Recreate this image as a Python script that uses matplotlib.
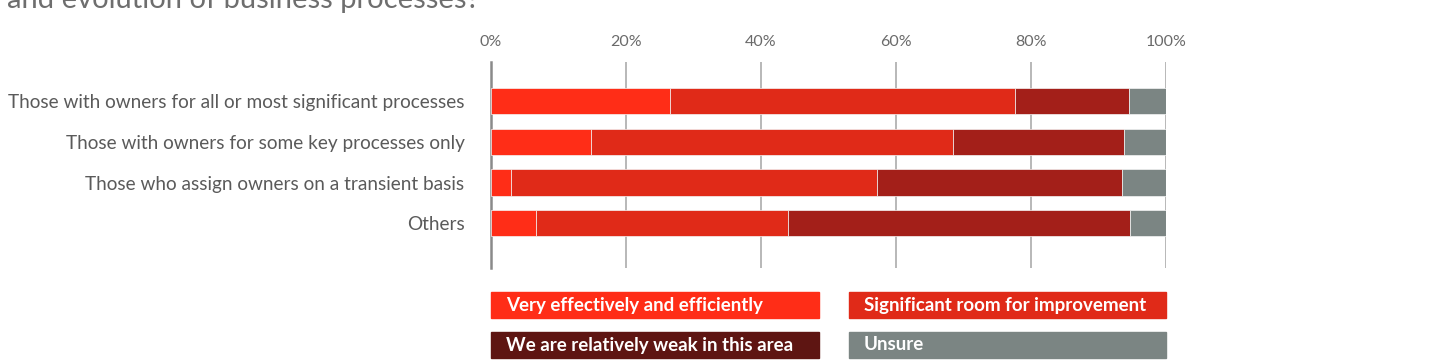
import matplotlib
matplotlib.use("Agg")
import matplotlib.pyplot as plt
from matplotlib.patches import Rectangle
import numpy as np

plt.rcParams["font.family"] = ["Lato", "DejaVu Sans"]

title = "and evolution of business processes?"
categories = [
    "Those with owners for all or most significant processes",
    "Those with owners for some key processes only",
    "Those who assign owners on a transient basis",
    "Others",
]
series = [
    "Very effectively and efficiently",
    "Significant room for improvement",
    "We are relatively weak in this area",
    "Unsure",
]
very_effective = [26.5, 14.8, 3.0, 6.6]
room_for_improvement = [51.2, 53.7, 54.2, 37.4]
relatively_weak = [16.8, 25.3, 36.3, 50.7]
unsure = [5.5, 6.2, 6.5, 5.3]
x_ticks = [0, 20, 40, 60, 80, 100]

bar_colors = ["#ff2d17", "#e02a18", "#a31f19", "#7b8583"]
legend_colors = ["#ff2d17", "#e02a18", "#5e1512", "#7b8583"]

W, H = 1431, 362
fig = plt.figure(figsize=(W / 100, H / 100), dpi=100)
ax = fig.add_axes([491 / W, 1 - 268 / H, 675 / W, 206 / H])

y = np.arange(len(categories))
left = np.zeros(len(categories))
for vals, c in zip([very_effective, room_for_improvement, relatively_weak, unsure], bar_colors):
    ax.barh(y, vals, left=left, height=0.64, color=c,
            edgecolor="#f4f4f4", linewidth=0.5, zorder=3)
    left += np.array(vals)

ax.set_xlim(0, 100)
ax.set_ylim(4.1, -0.96)
for t in x_ticks[1:]:
    ax.axvline(t, color="#ababab", lw=1.2, zorder=1)

ax.xaxis.tick_top()
ax.set_xticks(x_ticks)
ax.set_xticklabels([f"{t}%" for t in x_ticks], fontsize=11.5, color="#6a6a6a")
ax.set_yticks(y)
ax.set_yticklabels(categories, fontsize=13.7, color="#5a5a5a")
ax.tick_params(axis="x", length=0, pad=9)
ax.tick_params(axis="y", length=0, pad=19)
for s in ["top", "right", "bottom"]:
    ax.spines[s].set_visible(False)
ax.spines["left"].set_color("#8a8a8a")
ax.spines["left"].set_linewidth(1.8)

# legend boxes
boxes = [(491, 292, 819, 318), (849, 292, 1166, 318),
         (491, 332, 819, 358), (849, 332, 1166, 358)]
for (x0, y0, x1, y1), lab, c in zip(boxes, series, legend_colors):
    fig.add_artist(Rectangle((x0 / W, 1 - y1 / H), (x1 - x0) / W, (y1 - y0) / H,
                             transform=fig.transFigure, color=c))
    fig.text((x0 + 15) / W, 1 - (y0 + y1) / 2 / H, lab, color="white",
             fontsize=13.5, fontweight="bold", va="center", ha="left")

fig.text(7 / W, 1 - 8 / H, title, fontsize=21, color="#6e6e6e", va="baseline")

fig.savefig("out.png", dpi=100)
